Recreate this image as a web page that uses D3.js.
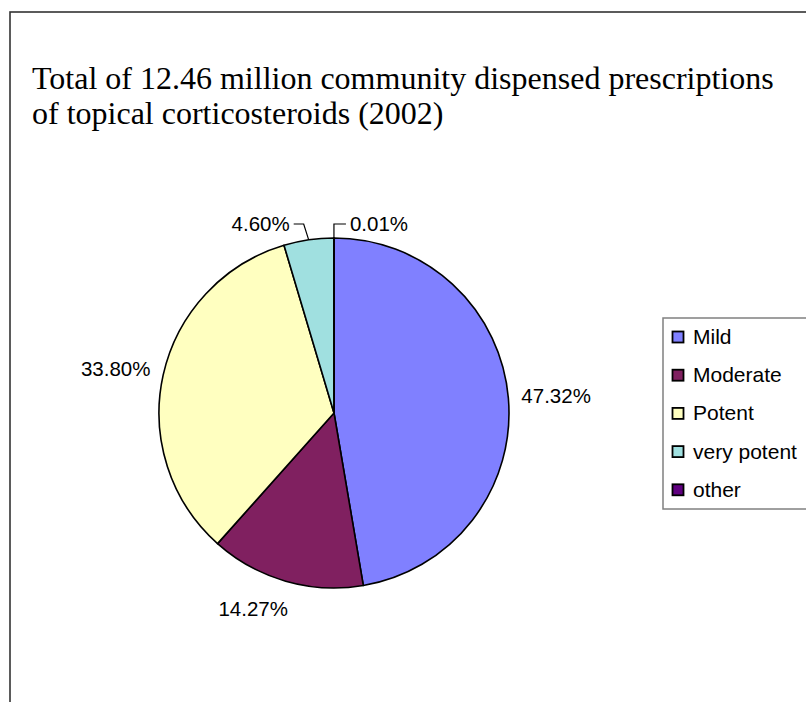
<!DOCTYPE html>
<html>
<head>
<meta charset="utf-8">
<script src="https://cdn.jsdelivr.net/npm/d3@7/dist/d3.min.js"></script>
<style>
  html, body { margin: 0; padding: 0; background: #fff; }
  svg { display: block; }
</style>
</head>
<body>
<svg id="chart" width="806" height="702"></svg>
<script>
// Prescription share by potency class (2002)
const categories = ["Mild", "Moderate", "Potent", "very potent", "other"];
const shares = [47.32, 14.27, 33.80, 4.60, 0.01];
const colors = ["#8080FF", "#802060", "#FFFFC0", "#A0E0E0", "#600080"];
const titleLines = [
  "Total of 12.46 million community dispensed prescriptions",
  "of topical corticosteroids (2002)"
];

const W = 806, H = 702;
const svg = d3.select("#chart");
svg.append("rect").attr("width", W).attr("height", H).attr("fill", "#fff");

// chart frame (runs past the right and bottom edges)
svg.append("rect")
  .attr("x", 10).attr("y", 12)
  .attr("width", 830).attr("height", 730)
  .attr("fill", "none").attr("stroke", "#333").attr("stroke-width", 1.6);

// title
svg.append("g").selectAll("text").data(titleLines).join("text")
  .attr("x", 32)
  .attr("y", (d, i) => 89 + i * 35)
  .attr("font-family", "'Liberation Serif', 'Times New Roman', serif")
  .attr("font-size", 32)
  .attr("fill", "#000")
  .text(d => d);

// pie
const cx = 334, cy = 413, R = 175;
const pie = d3.pie().sort(null).value(d => d)(shares);
const arc = d3.arc().innerRadius(0).outerRadius(R);
const g = svg.append("g").attr("transform", `translate(${cx},${cy})`);

g.selectAll("path").data(pie).join("path")
  .attr("d", arc)
  .attr("fill", (d, i) => colors[i])
  .attr("stroke", "#000")
  .attr("stroke-width", 1.6)
  .attr("stroke-linejoin", "round");

// data labels
const fmt = v => v.toFixed(2) + "%";
const labelFont = "'Liberation Sans', Arial, sans-serif";
const labelSize = 20.5;
const labelRx = 188, labelRy = 193;
const clamp = v => Math.max(-1, Math.min(1, v));
// small slices get an elbow leader to a label above the pie
const leaderRise = 14;
const leaderLayout = { 3: { elbowDx: -5, run: -10, side: -1 }, 4: { elbowDx: 0, run: 12, side: 1 } };

const labels = svg.append("g")
  .attr("font-family", labelFont)
  .attr("font-size", labelSize)
  .attr("fill", "#000");

pie.forEach((d, i) => {
  const a = (d.startAngle + d.endAngle) / 2;
  const s = Math.sin(a), c = Math.cos(a);
  const t = labels.append("text").text(fmt(shares[i]));
  const w = t.node().getComputedTextLength();
  const h = 22;
  if (leaderLayout[i]) {
    const L = leaderLayout[i];
    const px = cx + R * s, py = cy - R * c;
    const ey = cy - R - leaderRise;
    const ex = px + L.elbowDx;
    const hx = ex + L.run;
    svg.append("polyline")
      .attr("points", [[px, py], [ex, ey], [hx, ey]].map(p => p.join(",")).join(" "))
      .attr("fill", "none").attr("stroke", "#000").attr("stroke-width", 1.2);
    const tx = L.side < 0 ? hx - 4 - w : hx + 4;
    t.attr("x", tx).attr("y", ey + 7);
  } else {
    const px = cx + labelRx * s, py = cy - labelRy * c;
    const left = px - w * (1 - clamp(3 * s)) / 2;
    const midY = py - (h / 2) * c;
    t.attr("x", left).attr("y", midY + 7);
  }
});

// legend
const lg = svg.append("g");
lg.append("rect")
  .attr("x", 663).attr("y", 318)
  .attr("width", 170).attr("height", 191)
  .attr("fill", "#fff").attr("stroke", "#808080").attr("stroke-width", 1.5);

const item = lg.selectAll("g.item").data(categories).join("g")
  .attr("class", "item")
  .attr("transform", (d, i) => `translate(672, ${337 + i * 38.2})`);

item.append("rect")
  .attr("x", 0.5).attr("y", -5.5)
  .attr("width", 11).attr("height", 11)
  .attr("fill", (d, i) => colors[i])
  .attr("stroke", "#000").attr("stroke-width", 1.8);

item.append("text")
  .attr("x", 21).attr("y", 7)
  .attr("font-family", labelFont)
  .attr("font-size", 21)
  .attr("fill", "#000")
  .text(d => d);
</script>
</body>
</html>
